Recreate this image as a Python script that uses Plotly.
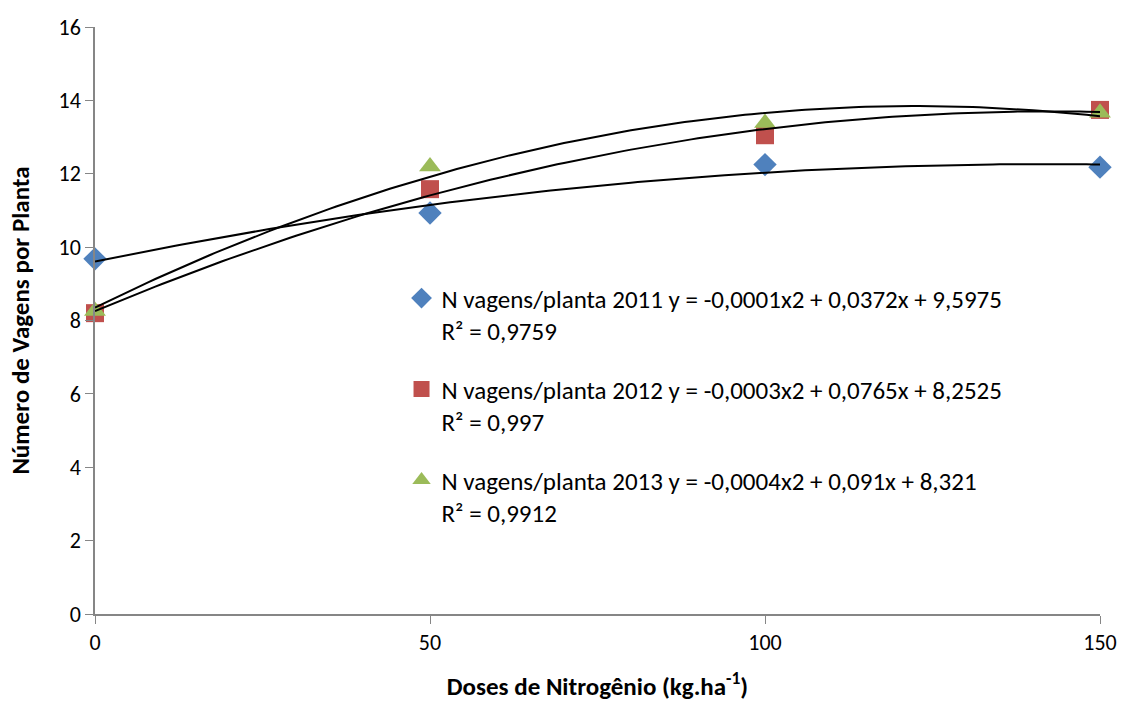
import numpy as np
import plotly.graph_objects as go

# Nitrogen doses (kg/ha)
doses = [0, 50, 100, 150]

# Pods per plant for each season
pods_2011 = [9.68, 10.93, 12.25, 12.18]
pods_2012 = [8.20, 11.58, 13.05, 13.74]
pods_2013 = [8.26, 12.20, 13.38, 13.66]

legend_2011 = "N vagens/planta 2011 y = -0,0001x2 + 0,0372x + 9,5975<br>R² = 0,9759"
legend_2012 = "N vagens/planta 2012 y = -0,0003x2 + 0,0765x + 8,2525<br>R² = 0,997"
legend_2013 = "N vagens/planta 2013 y = -0,0004x2 + 0,091x + 8,321<br>R² = 0,9912"

x_ticks = [0, 50, 100, 150]
y_ticks = [0, 2, 4, 6, 8, 10, 12, 14, 16]

series = [
    (pods_2011, legend_2011, "#4F81BD", "diamond", 18),
    (pods_2012, legend_2012, "#C0504D", "square", 18),
    (pods_2013, legend_2013, "#9BBB59", "triangle-up", 19),
]

fig = go.Figure()

for i, (vals, name, color, symbol, size) in enumerate(series):
    fig.add_trace(go.Scatter(
        x=doses, y=vals, mode="markers", name=name,
        legendgroup=f"g{i}",
        marker=dict(color=color, symbol=symbol, size=size, line=dict(width=0)),
        cliponaxis=False,
    ))

# Second-order polynomial trend lines fitted to each season
xs = np.linspace(0, 150, 151)
for i, (vals, name, color, symbol, size) in enumerate(series):
    coef = np.polyfit(doses, vals, 2)
    fig.add_trace(go.Scatter(
        x=xs, y=np.polyval(coef, xs), mode="lines", showlegend=False,
        line=dict(color="black", width=2), hoverinfo="skip",
        cliponaxis=False,
    ))

fig.update_layout(
    width=1125, height=702,
    margin=dict(l=95, r=25, t=27, b=88),
    paper_bgcolor="white", plot_bgcolor="white",
    font=dict(family="Carlito, Lato, sans-serif", size=21, color="black"),
    legend=dict(
        x=0.305, y=0.577, xanchor="left", yanchor="top",
        bgcolor="rgba(0,0,0,0)", font=dict(size=25),
        tracegroupgap=23, valign="top", itemwidth=30,
    ),
    xaxis=dict(
        range=[0, 150], tickvals=x_ticks, showgrid=False, zeroline=False,
        showline=True, linecolor="#868686", linewidth=1.5,
        ticks="outside", ticklen=8, tickcolor="#868686",
        tickfont=dict(size=22), automargin=False,
        title=dict(text="<b>Doses de Nitrogênio (kg.ha<sup>-1</sup>)</b>", font=dict(size=25), standoff=22),
    ),
    yaxis=dict(
        range=[0, 16], tickvals=y_ticks, showgrid=False, zeroline=False,
        showline=True, linecolor="#868686", linewidth=1.5,
        ticks="outside", ticklen=8, tickcolor="#868686",
        tickfont=dict(size=22), automargin=False,
        title=dict(text="<b>Número de Vagens por Planta</b>", font=dict(size=25), standoff=22),
    ),
)

fig.write_html("out.html")
